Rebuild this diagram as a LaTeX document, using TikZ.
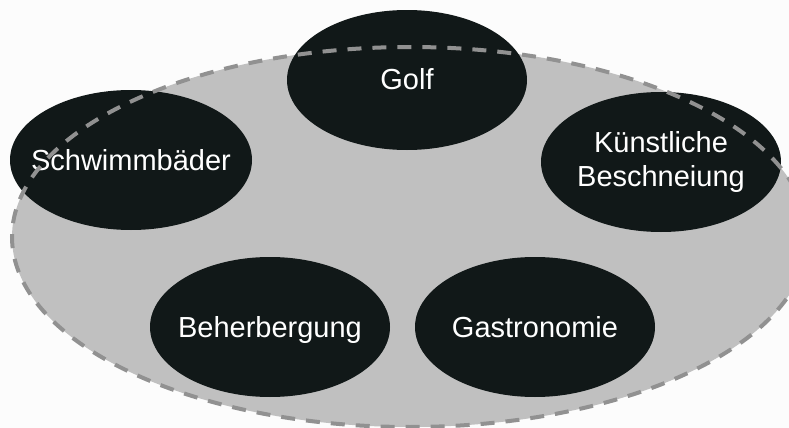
\documentclass[tikz,border=0pt]{standalone}
\usepackage{fontspec}
\setmainfont{Liberation Sans}
\usetikzlibrary{positioning,shapes.geometric}
\definecolor{MarktGrau}{RGB}{192,192,192}
\definecolor{MarktRand}{RGB}{145,145,145}
\definecolor{FeldDunkel}{RGB}{17,24,24}
\definecolor{BlattWeiss}{RGB}{252,252,252}
\tikzset{
  markt flaeche/.style={
    ellipse,
    fill=MarktGrau,
    inner sep=0pt,
    minimum width=398pt,
    minimum height=190pt
  },
  markt rand/.style={markt flaeche, fill=none, draw=MarktRand, line width=2pt,
    dash pattern=on 7pt off 5.5pt},
  feld oval/.style={
    ellipse,
    fill=FeldDunkel,
    text=white,
    align=center,
    inner xsep=-60pt,
    inner ysep=-25pt,
    minimum width=120pt,
    minimum height=70pt,
    font=\fontsize{14.5}{17}\selectfont
  },
  eine zeile/.style={text height=10pt, text depth=0pt}
}

\begin{document}
\begin{tikzpicture}[x=0.5pt, y=-0.5pt]
\useasboundingbox (0,0) rectangle (789,428);
\clip (0,0) rectangle (789,428);
\fill[BlattWeiss] (0,0) rectangle (789,428);
\node[markt flaeche] (markt) at (410,237) {};
\node[feld oval, eine zeile] (golf) at (407,80) {Golf};
\node[feld oval, eine zeile, minimum width=121pt] (bad) at (131,160) {Schwimmbäder};
\node[feld oval] (schnee) at (661,162) {Künstliche\\Beschneiung};
\node[feld oval, eine zeile] (bett) at (270,327) {Beherbergung};
\node[feld oval, eine zeile] (essen) at (535,327) {Gastronomie};
% gestrichelter Rand liegt ueber den Feldern
\node[markt rand] (marktlinie) at (markt.center) {};
\end{tikzpicture}
\end{document}
